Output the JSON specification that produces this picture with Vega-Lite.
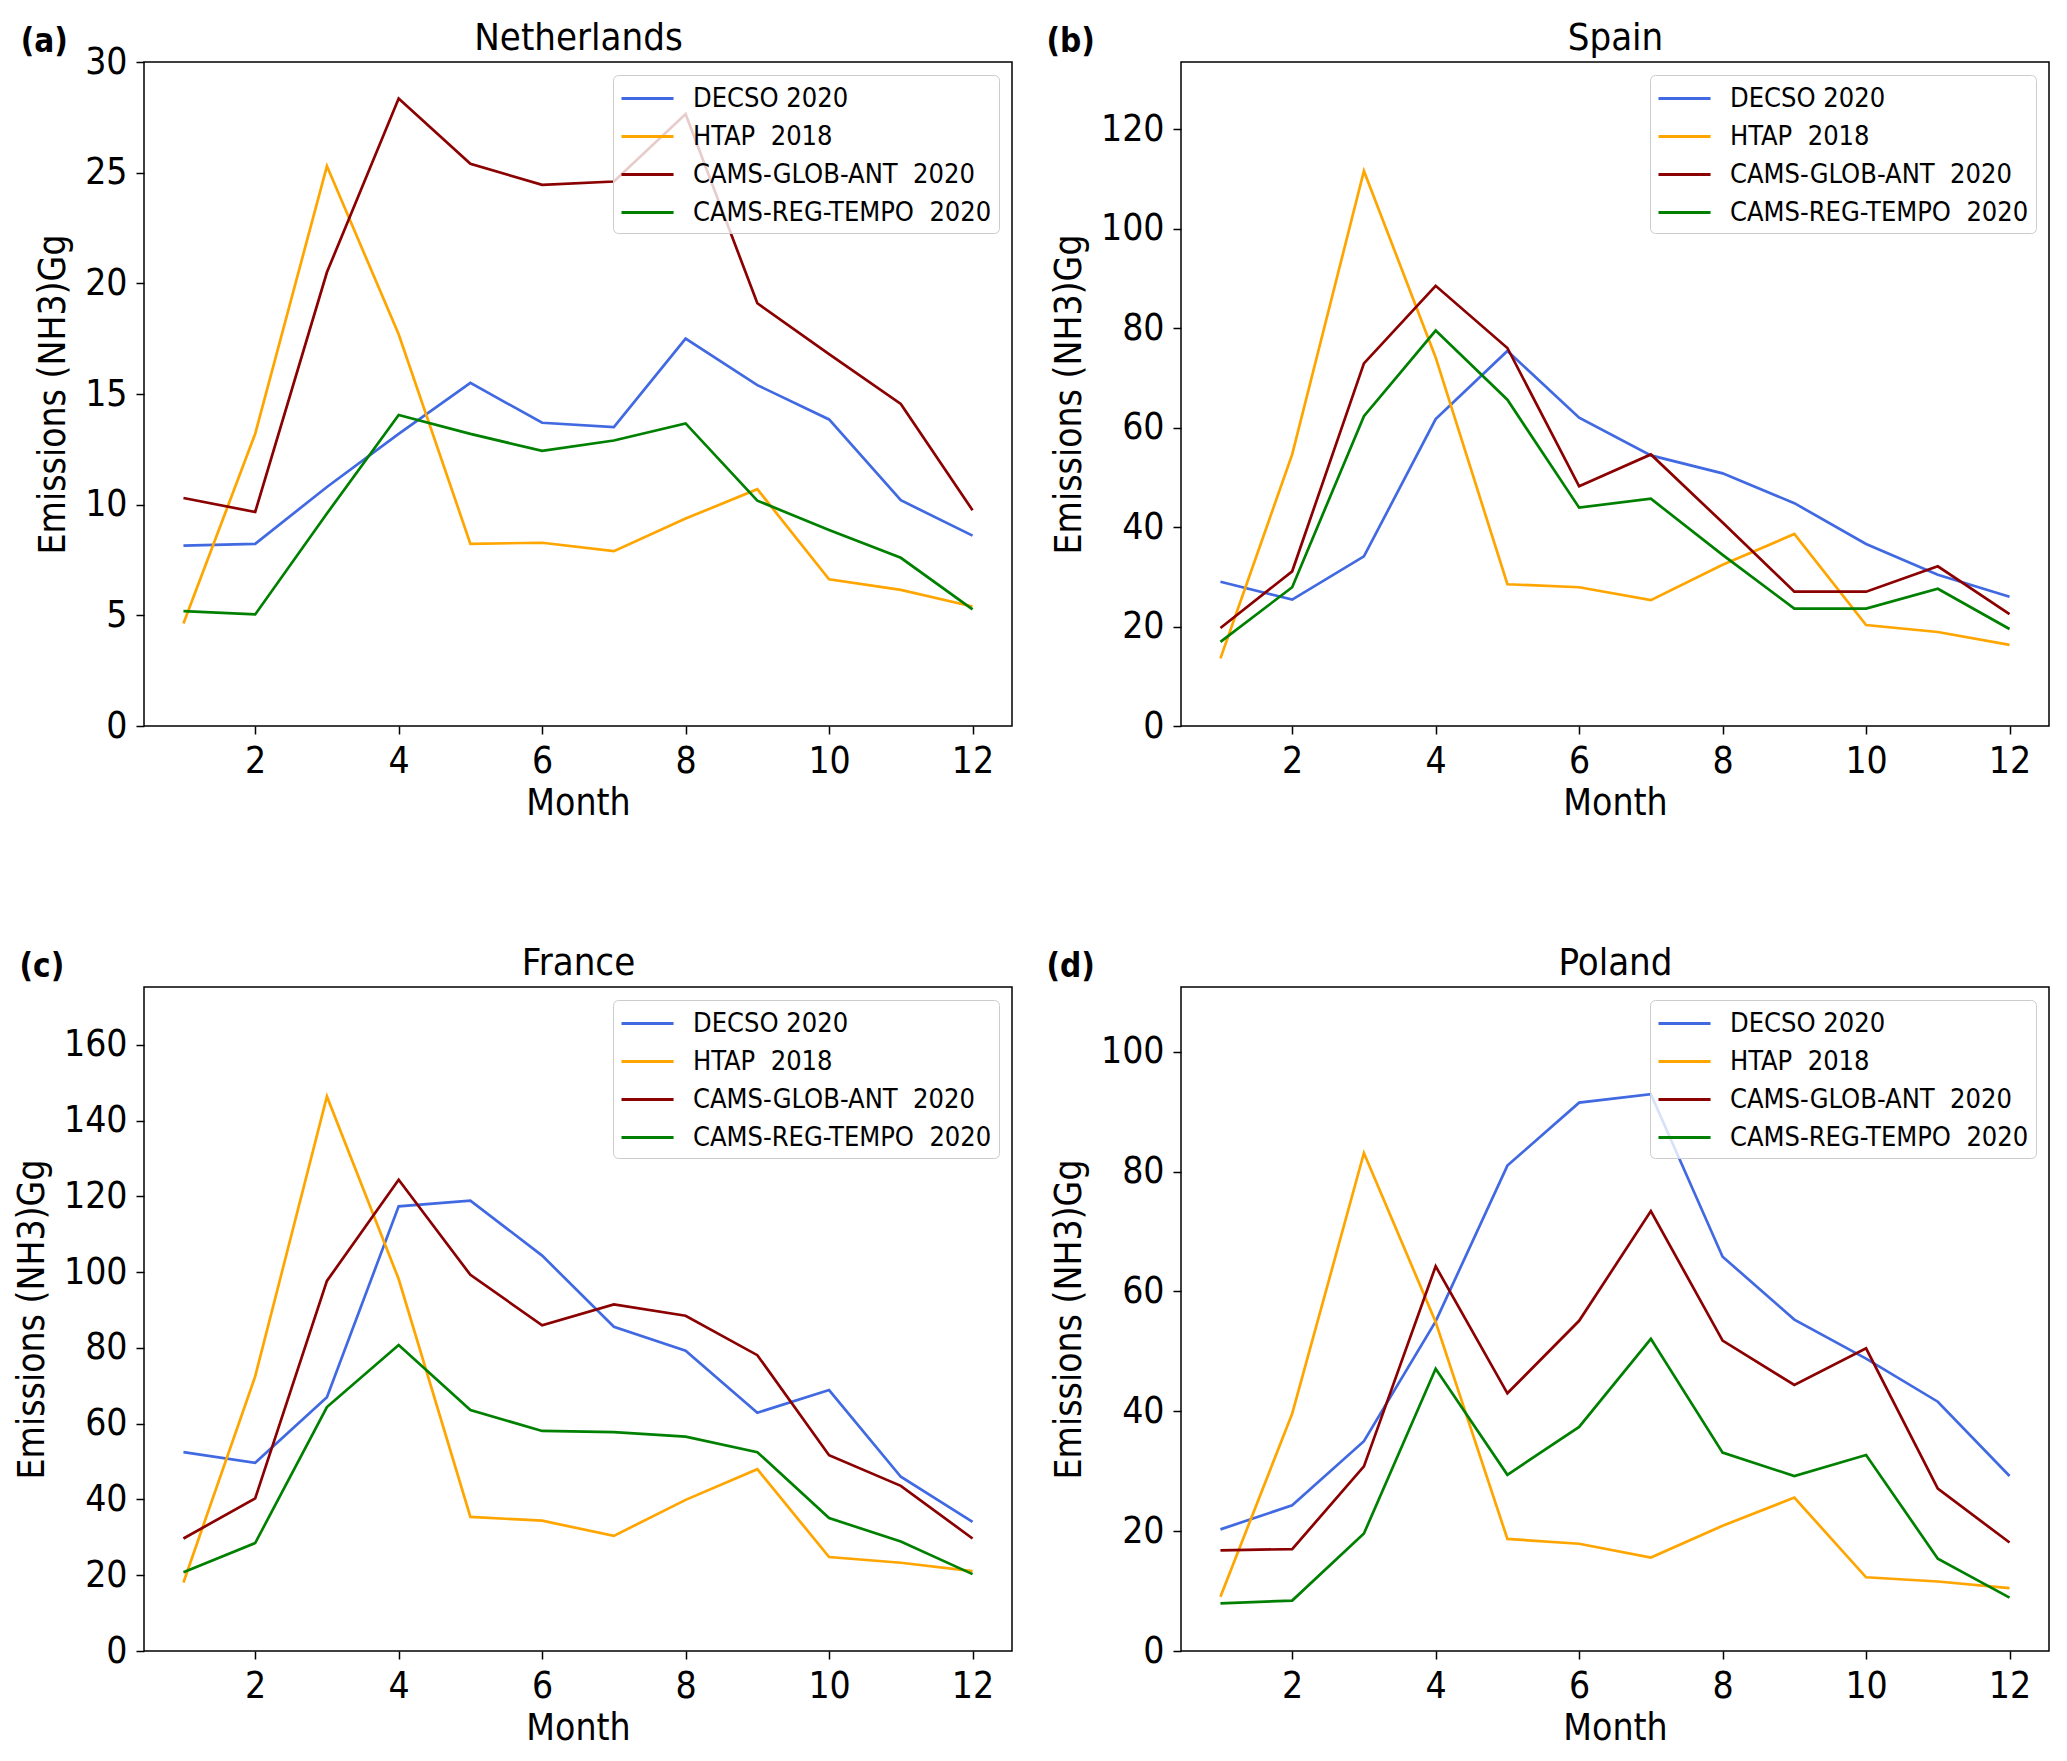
{
"$schema": "https://vega.github.io/schema/vega-lite/v6.json",
"padding": {"left": 12, "top": 18, "right": 5, "bottom": 5},
"background": "white",
"config": {
 "font": "DejaVu Sans Condensed",
 "view": {"stroke": "black", "strokeWidth": 1.5},
 "axis": {"domain": false, "grid": false, "tickColor": "black", "tickSize": 8, "tickWidth": 1.5, "labelFontSize": 37, "labelColor": "black", "titleFontSize": 37, "titleFontWeight": "normal", "titleColor": "black", "labelPadding": 9, "titlePadding": 12},
 "legend": {"orient": "top-right", "offset": 13, "padding": 7, "strokeColor": "#cccccc", "fillColor": "rgba(255,255,255,0.8)", "cornerRadius": 5, "labelFontSize": 27, "labelColor": "black", "labelLimit": 600, "symbolType": "M-1,0H2.47", "symbolSize": 900, "symbolStrokeWidth": 3, "symbolFillColor": "transparent", "rowPadding": 8, "labelOffset": 40},
 "title": {"fontSize": 33, "fontWeight": "bold", "anchor": "start", "frame": "bounds", "offset": -40, "color": "black"}
},
"datasets": {"nh3": [
{"country":"Netherlands","source":"DECSO 2020","month":1,"value":8.15},{"country":"Netherlands","source":"DECSO 2020","month":2,"value":8.23},{"country":"Netherlands","source":"DECSO 2020","month":3,"value":10.8},{"country":"Netherlands","source":"DECSO 2020","month":4,"value":13.2},{"country":"Netherlands","source":"DECSO 2020","month":5,"value":15.5},{"country":"Netherlands","source":"DECSO 2020","month":6,"value":13.7},{"country":"Netherlands","source":"DECSO 2020","month":7,"value":13.5},{"country":"Netherlands","source":"DECSO 2020","month":8,"value":17.5},{"country":"Netherlands","source":"DECSO 2020","month":9,"value":15.4},{"country":"Netherlands","source":"DECSO 2020","month":10,"value":13.85},{"country":"Netherlands","source":"DECSO 2020","month":11,"value":10.2},{"country":"Netherlands","source":"DECSO 2020","month":12,"value":8.6},
{"country":"Netherlands","source":"HTAP \u00a02018","month":1,"value":4.63},{"country":"Netherlands","source":"HTAP \u00a02018","month":2,"value":13.2},{"country":"Netherlands","source":"HTAP \u00a02018","month":3,"value":25.3},{"country":"Netherlands","source":"HTAP \u00a02018","month":4,"value":17.7},{"country":"Netherlands","source":"HTAP \u00a02018","month":5,"value":8.23},{"country":"Netherlands","source":"HTAP \u00a02018","month":6,"value":8.28},{"country":"Netherlands","source":"HTAP \u00a02018","month":7,"value":7.9},{"country":"Netherlands","source":"HTAP \u00a02018","month":8,"value":9.37},{"country":"Netherlands","source":"HTAP \u00a02018","month":9,"value":10.7},{"country":"Netherlands","source":"HTAP \u00a02018","month":10,"value":6.63},{"country":"Netherlands","source":"HTAP \u00a02018","month":11,"value":6.15},{"country":"Netherlands","source":"HTAP \u00a02018","month":12,"value":5.4},
{"country":"Netherlands","source":"CAMS-GLOB-ANT \u00a02020","month":1,"value":10.3},{"country":"Netherlands","source":"CAMS-GLOB-ANT \u00a02020","month":2,"value":9.67},{"country":"Netherlands","source":"CAMS-GLOB-ANT \u00a02020","month":3,"value":20.5},{"country":"Netherlands","source":"CAMS-GLOB-ANT \u00a02020","month":4,"value":28.35},{"country":"Netherlands","source":"CAMS-GLOB-ANT \u00a02020","month":5,"value":25.4},{"country":"Netherlands","source":"CAMS-GLOB-ANT \u00a02020","month":6,"value":24.45},{"country":"Netherlands","source":"CAMS-GLOB-ANT \u00a02020","month":7,"value":24.6},{"country":"Netherlands","source":"CAMS-GLOB-ANT \u00a02020","month":8,"value":27.65},{"country":"Netherlands","source":"CAMS-GLOB-ANT \u00a02020","month":9,"value":19.1},{"country":"Netherlands","source":"CAMS-GLOB-ANT \u00a02020","month":10,"value":16.8},{"country":"Netherlands","source":"CAMS-GLOB-ANT \u00a02020","month":11,"value":14.55},{"country":"Netherlands","source":"CAMS-GLOB-ANT \u00a02020","month":12,"value":9.75},
{"country":"Netherlands","source":"CAMS-REG-TEMPO \u00a02020","month":1,"value":5.19},{"country":"Netherlands","source":"CAMS-REG-TEMPO \u00a02020","month":2,"value":5.04},{"country":"Netherlands","source":"CAMS-REG-TEMPO \u00a02020","month":3,"value":9.6},{"country":"Netherlands","source":"CAMS-REG-TEMPO \u00a02020","month":4,"value":14.05},{"country":"Netherlands","source":"CAMS-REG-TEMPO \u00a02020","month":5,"value":13.2},{"country":"Netherlands","source":"CAMS-REG-TEMPO \u00a02020","month":6,"value":12.43},{"country":"Netherlands","source":"CAMS-REG-TEMPO \u00a02020","month":7,"value":12.9},{"country":"Netherlands","source":"CAMS-REG-TEMPO \u00a02020","month":8,"value":13.67},{"country":"Netherlands","source":"CAMS-REG-TEMPO \u00a02020","month":9,"value":10.18},{"country":"Netherlands","source":"CAMS-REG-TEMPO \u00a02020","month":10,"value":8.86},{"country":"Netherlands","source":"CAMS-REG-TEMPO \u00a02020","month":11,"value":7.6},{"country":"Netherlands","source":"CAMS-REG-TEMPO \u00a02020","month":12,"value":5.27},
{"country":"Spain","source":"DECSO 2020","month":1,"value":29.0},{"country":"Spain","source":"DECSO 2020","month":2,"value":25.4},{"country":"Spain","source":"DECSO 2020","month":3,"value":34.1},{"country":"Spain","source":"DECSO 2020","month":4,"value":61.7},{"country":"Spain","source":"DECSO 2020","month":5,"value":75.4},{"country":"Spain","source":"DECSO 2020","month":6,"value":62.0},{"country":"Spain","source":"DECSO 2020","month":7,"value":54.4},{"country":"Spain","source":"DECSO 2020","month":8,"value":50.8},{"country":"Spain","source":"DECSO 2020","month":9,"value":44.8},{"country":"Spain","source":"DECSO 2020","month":10,"value":36.6},{"country":"Spain","source":"DECSO 2020","month":11,"value":30.4},{"country":"Spain","source":"DECSO 2020","month":12,"value":26.0},
{"country":"Spain","source":"HTAP \u00a02018","month":1,"value":13.6},{"country":"Spain","source":"HTAP \u00a02018","month":2,"value":54.6},{"country":"Spain","source":"HTAP \u00a02018","month":3,"value":111.6},{"country":"Spain","source":"HTAP \u00a02018","month":4,"value":74.1},{"country":"Spain","source":"HTAP \u00a02018","month":5,"value":28.5},{"country":"Spain","source":"HTAP \u00a02018","month":6,"value":27.9},{"country":"Spain","source":"HTAP \u00a02018","month":7,"value":25.3},{"country":"Spain","source":"HTAP \u00a02018","month":8,"value":32.4},{"country":"Spain","source":"HTAP \u00a02018","month":9,"value":38.6},{"country":"Spain","source":"HTAP \u00a02018","month":10,"value":20.3},{"country":"Spain","source":"HTAP \u00a02018","month":11,"value":18.9},{"country":"Spain","source":"HTAP \u00a02018","month":12,"value":16.3},
{"country":"Spain","source":"CAMS-GLOB-ANT \u00a02020","month":1,"value":19.7},{"country":"Spain","source":"CAMS-GLOB-ANT \u00a02020","month":2,"value":31.1},{"country":"Spain","source":"CAMS-GLOB-ANT \u00a02020","month":3,"value":72.9},{"country":"Spain","source":"CAMS-GLOB-ANT \u00a02020","month":4,"value":88.5},{"country":"Spain","source":"CAMS-GLOB-ANT \u00a02020","month":5,"value":76.0},{"country":"Spain","source":"CAMS-GLOB-ANT \u00a02020","month":6,"value":48.2},{"country":"Spain","source":"CAMS-GLOB-ANT \u00a02020","month":7,"value":54.6},{"country":"Spain","source":"CAMS-GLOB-ANT \u00a02020","month":8,"value":40.9},{"country":"Spain","source":"CAMS-GLOB-ANT \u00a02020","month":9,"value":27.0},{"country":"Spain","source":"CAMS-GLOB-ANT \u00a02020","month":10,"value":27.0},{"country":"Spain","source":"CAMS-GLOB-ANT \u00a02020","month":11,"value":32.1},{"country":"Spain","source":"CAMS-GLOB-ANT \u00a02020","month":12,"value":22.5},
{"country":"Spain","source":"CAMS-REG-TEMPO \u00a02020","month":1,"value":16.9},{"country":"Spain","source":"CAMS-REG-TEMPO \u00a02020","month":2,"value":27.9},{"country":"Spain","source":"CAMS-REG-TEMPO \u00a02020","month":3,"value":62.3},{"country":"Spain","source":"CAMS-REG-TEMPO \u00a02020","month":4,"value":79.5},{"country":"Spain","source":"CAMS-REG-TEMPO \u00a02020","month":5,"value":65.6},{"country":"Spain","source":"CAMS-REG-TEMPO \u00a02020","month":6,"value":43.9},{"country":"Spain","source":"CAMS-REG-TEMPO \u00a02020","month":7,"value":45.7},{"country":"Spain","source":"CAMS-REG-TEMPO \u00a02020","month":8,"value":34.4},{"country":"Spain","source":"CAMS-REG-TEMPO \u00a02020","month":9,"value":23.6},{"country":"Spain","source":"CAMS-REG-TEMPO \u00a02020","month":10,"value":23.6},{"country":"Spain","source":"CAMS-REG-TEMPO \u00a02020","month":11,"value":27.6},{"country":"Spain","source":"CAMS-REG-TEMPO \u00a02020","month":12,"value":19.5},
{"country":"France","source":"DECSO 2020","month":1,"value":52.5},{"country":"France","source":"DECSO 2020","month":2,"value":49.7},{"country":"France","source":"DECSO 2020","month":3,"value":67.0},{"country":"France","source":"DECSO 2020","month":4,"value":117.4},{"country":"France","source":"DECSO 2020","month":5,"value":118.9},{"country":"France","source":"DECSO 2020","month":6,"value":104.4},{"country":"France","source":"DECSO 2020","month":7,"value":85.6},{"country":"France","source":"DECSO 2020","month":8,"value":79.3},{"country":"France","source":"DECSO 2020","month":9,"value":62.9},{"country":"France","source":"DECSO 2020","month":10,"value":68.9},{"country":"France","source":"DECSO 2020","month":11,"value":46.0},{"country":"France","source":"DECSO 2020","month":12,"value":34.1},
{"country":"France","source":"HTAP \u00a02018","month":1,"value":18.1},{"country":"France","source":"HTAP \u00a02018","month":2,"value":72.5},{"country":"France","source":"HTAP \u00a02018","month":3,"value":146.4},{"country":"France","source":"HTAP \u00a02018","month":4,"value":98.2},{"country":"France","source":"HTAP \u00a02018","month":5,"value":35.4},{"country":"France","source":"HTAP \u00a02018","month":6,"value":34.4},{"country":"France","source":"HTAP \u00a02018","month":7,"value":30.4},{"country":"France","source":"HTAP \u00a02018","month":8,"value":39.9},{"country":"France","source":"HTAP \u00a02018","month":9,"value":48.0},{"country":"France","source":"HTAP \u00a02018","month":10,"value":24.8},{"country":"France","source":"HTAP \u00a02018","month":11,"value":23.3},{"country":"France","source":"HTAP \u00a02018","month":12,"value":21.1},
{"country":"France","source":"CAMS-GLOB-ANT \u00a02020","month":1,"value":29.7},{"country":"France","source":"CAMS-GLOB-ANT \u00a02020","month":2,"value":40.3},{"country":"France","source":"CAMS-GLOB-ANT \u00a02020","month":3,"value":97.7},{"country":"France","source":"CAMS-GLOB-ANT \u00a02020","month":4,"value":124.4},{"country":"France","source":"CAMS-GLOB-ANT \u00a02020","month":5,"value":99.3},{"country":"France","source":"CAMS-GLOB-ANT \u00a02020","month":6,"value":86.0},{"country":"France","source":"CAMS-GLOB-ANT \u00a02020","month":7,"value":91.5},{"country":"France","source":"CAMS-GLOB-ANT \u00a02020","month":8,"value":88.5},{"country":"France","source":"CAMS-GLOB-ANT \u00a02020","month":9,"value":78.1},{"country":"France","source":"CAMS-GLOB-ANT \u00a02020","month":10,"value":51.7},{"country":"France","source":"CAMS-GLOB-ANT \u00a02020","month":11,"value":43.6},{"country":"France","source":"CAMS-GLOB-ANT \u00a02020","month":12,"value":29.7},
{"country":"France","source":"CAMS-REG-TEMPO \u00a02020","month":1,"value":20.8},{"country":"France","source":"CAMS-REG-TEMPO \u00a02020","month":2,"value":28.5},{"country":"France","source":"CAMS-REG-TEMPO \u00a02020","month":3,"value":64.4},{"country":"France","source":"CAMS-REG-TEMPO \u00a02020","month":4,"value":80.8},{"country":"France","source":"CAMS-REG-TEMPO \u00a02020","month":5,"value":63.6},{"country":"France","source":"CAMS-REG-TEMPO \u00a02020","month":6,"value":58.1},{"country":"France","source":"CAMS-REG-TEMPO \u00a02020","month":7,"value":57.8},{"country":"France","source":"CAMS-REG-TEMPO \u00a02020","month":8,"value":56.6},{"country":"France","source":"CAMS-REG-TEMPO \u00a02020","month":9,"value":52.5},{"country":"France","source":"CAMS-REG-TEMPO \u00a02020","month":10,"value":35.1},{"country":"France","source":"CAMS-REG-TEMPO \u00a02020","month":11,"value":28.9},{"country":"France","source":"CAMS-REG-TEMPO \u00a02020","month":12,"value":20.3},
{"country":"Poland","source":"DECSO 2020","month":1,"value":20.3},{"country":"Poland","source":"DECSO 2020","month":2,"value":24.3},{"country":"Poland","source":"DECSO 2020","month":3,"value":35.0},{"country":"Poland","source":"DECSO 2020","month":4,"value":55.0},{"country":"Poland","source":"DECSO 2020","month":5,"value":81.0},{"country":"Poland","source":"DECSO 2020","month":6,"value":91.5},{"country":"Poland","source":"DECSO 2020","month":7,"value":92.9},{"country":"Poland","source":"DECSO 2020","month":8,"value":65.8},{"country":"Poland","source":"DECSO 2020","month":9,"value":55.3},{"country":"Poland","source":"DECSO 2020","month":10,"value":48.8},{"country":"Poland","source":"DECSO 2020","month":11,"value":41.6},{"country":"Poland","source":"DECSO 2020","month":12,"value":29.2},
{"country":"Poland","source":"HTAP \u00a02018","month":1,"value":9.07},{"country":"Poland","source":"HTAP \u00a02018","month":2,"value":39.6},{"country":"Poland","source":"HTAP \u00a02018","month":3,"value":83.1},{"country":"Poland","source":"HTAP \u00a02018","month":4,"value":54.9},{"country":"Poland","source":"HTAP \u00a02018","month":5,"value":18.7},{"country":"Poland","source":"HTAP \u00a02018","month":6,"value":17.9},{"country":"Poland","source":"HTAP \u00a02018","month":7,"value":15.6},{"country":"Poland","source":"HTAP \u00a02018","month":8,"value":20.9},{"country":"Poland","source":"HTAP \u00a02018","month":9,"value":25.6},{"country":"Poland","source":"HTAP \u00a02018","month":10,"value":12.3},{"country":"Poland","source":"HTAP \u00a02018","month":11,"value":11.6},{"country":"Poland","source":"HTAP \u00a02018","month":12,"value":10.5},
{"country":"Poland","source":"CAMS-GLOB-ANT \u00a02020","month":1,"value":16.8},{"country":"Poland","source":"CAMS-GLOB-ANT \u00a02020","month":2,"value":17.0},{"country":"Poland","source":"CAMS-GLOB-ANT \u00a02020","month":3,"value":30.8},{"country":"Poland","source":"CAMS-GLOB-ANT \u00a02020","month":4,"value":64.2},{"country":"Poland","source":"CAMS-GLOB-ANT \u00a02020","month":5,"value":43.0},{"country":"Poland","source":"CAMS-GLOB-ANT \u00a02020","month":6,"value":55.1},{"country":"Poland","source":"CAMS-GLOB-ANT \u00a02020","month":7,"value":73.4},{"country":"Poland","source":"CAMS-GLOB-ANT \u00a02020","month":8,"value":51.8},{"country":"Poland","source":"CAMS-GLOB-ANT \u00a02020","month":9,"value":44.4},{"country":"Poland","source":"CAMS-GLOB-ANT \u00a02020","month":10,"value":50.5},{"country":"Poland","source":"CAMS-GLOB-ANT \u00a02020","month":11,"value":27.1},{"country":"Poland","source":"CAMS-GLOB-ANT \u00a02020","month":12,"value":18.1},
{"country":"Poland","source":"CAMS-REG-TEMPO \u00a02020","month":1,"value":7.94},{"country":"Poland","source":"CAMS-REG-TEMPO \u00a02020","month":2,"value":8.41},{"country":"Poland","source":"CAMS-REG-TEMPO \u00a02020","month":3,"value":19.6},{"country":"Poland","source":"CAMS-REG-TEMPO \u00a02020","month":4,"value":47.1},{"country":"Poland","source":"CAMS-REG-TEMPO \u00a02020","month":5,"value":29.4},{"country":"Poland","source":"CAMS-REG-TEMPO \u00a02020","month":6,"value":37.4},{"country":"Poland","source":"CAMS-REG-TEMPO \u00a02020","month":7,"value":52.1},{"country":"Poland","source":"CAMS-REG-TEMPO \u00a02020","month":8,"value":33.1},{"country":"Poland","source":"CAMS-REG-TEMPO \u00a02020","month":9,"value":29.2},{"country":"Poland","source":"CAMS-REG-TEMPO \u00a02020","month":10,"value":32.7},{"country":"Poland","source":"CAMS-REG-TEMPO \u00a02020","month":11,"value":15.4},{"country":"Poland","source":"CAMS-REG-TEMPO \u00a02020","month":12,"value":8.9}
]},
"columns": 2,
"bounds": "flush",
"spacing": {"row": 261, "column": 169},
"resolve": {"scale": {"color": "independent"}, "legend": {"color": "independent"}},
"concat": [
 {"width": 868, "height": 664, "title": {"text": "(a)", "dx": -14},
  "data": {"name": "nh3"}, "transform": [{"filter": "datum.country === 'Netherlands'"}],
  "layer": [
   {"mark": {"type": "line", "strokeWidth": 2.7},
    "encoding": {
     "x": {"field": "month", "type": "quantitative", "scale": {"domain": [0.45, 12.55], "nice": false, "zero": false}, "axis": {"values": [2,4,6,8,10,12], "title": "Month", "titlePadding": 6}},
     "y": {"field": "value", "type": "quantitative", "scale": {"domain": [0, 30], "nice": false}, "axis": {"values": [0,5,10,15,20,25,30], "title": "Emissions (NH3)Gg"}},
     "color": {"field": "source", "type": "nominal", "scale": {"domain": ["DECSO 2020","HTAP \u00a02018","CAMS-GLOB-ANT \u00a02020","CAMS-REG-TEMPO \u00a02020"], "range": ["#4169e1","#ffa500","#8b0000","#008000"]}, "legend": {"title": null}}}},
   {"mark": {"type": "rule", "opacity": 0},
    "encoding": {"x": {"field": "month", "type": "quantitative", "scale": {"domain": [0.45, 12.55], "nice": false, "zero": false}, "axis": {"orient": "top", "title": "Netherlands", "labels": false, "ticks": false, "domain": false, "titleFontSize": 38, "titlePadding": 5}}}}
  ],
  "resolve": {"axis": {"x": "independent"}}},
 {"width": 868, "height": 664, "title": {"text": "(b)", "dx": -4},
  "data": {"name": "nh3"}, "transform": [{"filter": "datum.country === 'Spain'"}],
  "layer": [
   {"mark": {"type": "line", "strokeWidth": 2.7},
    "encoding": {
     "x": {"field": "month", "type": "quantitative", "scale": {"domain": [0.45, 12.55], "nice": false, "zero": false}, "axis": {"values": [2,4,6,8,10,12], "title": "Month", "titlePadding": 6}},
     "y": {"field": "value", "type": "quantitative", "scale": {"domain": [0, 133.5], "nice": false}, "axis": {"values": [0,20,40,60,80,100,120], "title": "Emissions (NH3)Gg"}},
     "color": {"field": "source", "type": "nominal", "scale": {"domain": ["DECSO 2020","HTAP \u00a02018","CAMS-GLOB-ANT \u00a02020","CAMS-REG-TEMPO \u00a02020"], "range": ["#4169e1","#ffa500","#8b0000","#008000"]}, "legend": {"title": null}}}},
   {"mark": {"type": "rule", "opacity": 0},
    "encoding": {"x": {"field": "month", "type": "quantitative", "scale": {"domain": [0.45, 12.55], "nice": false, "zero": false}, "axis": {"orient": "top", "title": "Spain", "labels": false, "ticks": false, "domain": false, "titleFontSize": 38, "titlePadding": 5}}}}
  ],
  "resolve": {"axis": {"x": "independent"}}},
 {"width": 868, "height": 664, "title": {"text": "(c)", "dx": 6},
  "data": {"name": "nh3"}, "transform": [{"filter": "datum.country === 'France'"}],
  "layer": [
   {"mark": {"type": "line", "strokeWidth": 2.7},
    "encoding": {
     "x": {"field": "month", "type": "quantitative", "scale": {"domain": [0.45, 12.55], "nice": false, "zero": false}, "axis": {"values": [2,4,6,8,10,12], "title": "Month", "titlePadding": 6}},
     "y": {"field": "value", "type": "quantitative", "scale": {"domain": [0, 175.3], "nice": false}, "axis": {"values": [0,20,40,60,80,100,120,140,160], "title": "Emissions (NH3)Gg"}},
     "color": {"field": "source", "type": "nominal", "scale": {"domain": ["DECSO 2020","HTAP \u00a02018","CAMS-GLOB-ANT \u00a02020","CAMS-REG-TEMPO \u00a02020"], "range": ["#4169e1","#ffa500","#8b0000","#008000"]}, "legend": {"title": null}}}},
   {"mark": {"type": "rule", "opacity": 0},
    "encoding": {"x": {"field": "month", "type": "quantitative", "scale": {"domain": [0.45, 12.55], "nice": false, "zero": false}, "axis": {"orient": "top", "title": "France", "labels": false, "ticks": false, "domain": false, "titleFontSize": 38, "titlePadding": 5}}}}
  ],
  "resolve": {"axis": {"x": "independent"}}},
 {"width": 868, "height": 664, "title": {"text": "(d)", "dx": -4},
  "data": {"name": "nh3"}, "transform": [{"filter": "datum.country === 'Poland'"}],
  "layer": [
   {"mark": {"type": "line", "strokeWidth": 2.7},
    "encoding": {
     "x": {"field": "month", "type": "quantitative", "scale": {"domain": [0.45, 12.55], "nice": false, "zero": false}, "axis": {"values": [2,4,6,8,10,12], "title": "Month", "titlePadding": 6}},
     "y": {"field": "value", "type": "quantitative", "scale": {"domain": [0, 110.8], "nice": false}, "axis": {"values": [0,20,40,60,80,100], "title": "Emissions (NH3)Gg"}},
     "color": {"field": "source", "type": "nominal", "scale": {"domain": ["DECSO 2020","HTAP \u00a02018","CAMS-GLOB-ANT \u00a02020","CAMS-REG-TEMPO \u00a02020"], "range": ["#4169e1","#ffa500","#8b0000","#008000"]}, "legend": {"title": null}}}},
   {"mark": {"type": "rule", "opacity": 0},
    "encoding": {"x": {"field": "month", "type": "quantitative", "scale": {"domain": [0.45, 12.55], "nice": false, "zero": false}, "axis": {"orient": "top", "title": "Poland", "labels": false, "ticks": false, "domain": false, "titleFontSize": 38, "titlePadding": 5}}}}
  ],
  "resolve": {"axis": {"x": "independent"}}}
]
}
